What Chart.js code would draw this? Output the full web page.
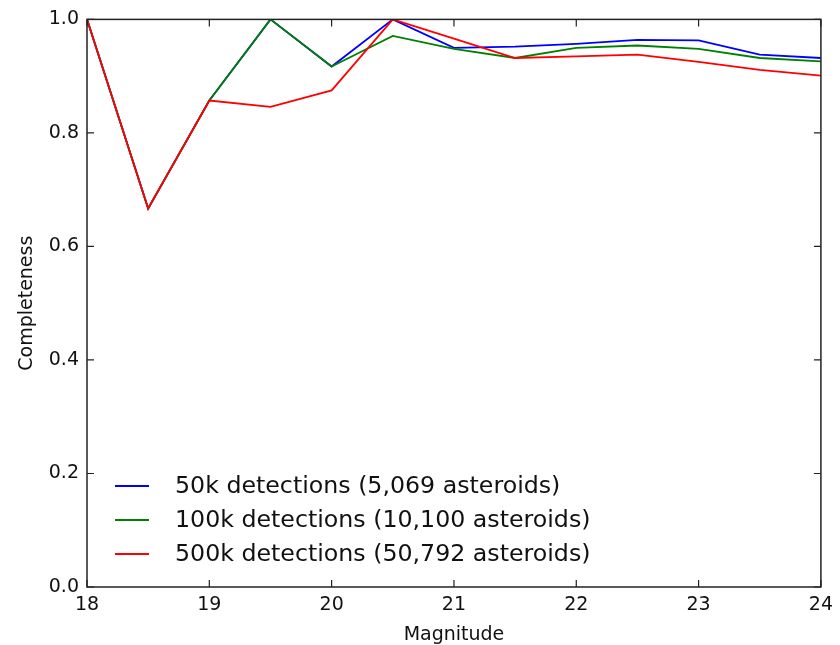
<!DOCTYPE html>
<html>
<head>
<meta charset="utf-8">
<script src="https://cdn.jsdelivr.net/npm/chart.js@4"></script>
<style>
  html, body { margin: 0; padding: 0; background: #fff; }
  #wrap { width: 840px; height: 645px; }
</style>
</head>
<body>
<div id="wrap"><canvas id="completeness-chart" width="840" height="645"></canvas></div>
<script>
// magnitude bins (x) and completeness per run
var magnitudes = [18, 18.5, 19, 19.5, 20, 20.5, 21, 21.5, 22, 22.5, 23, 23.5, 24];
var det50k = [1.0, 0.667, 0.857, 1.0, 0.917, 1.0, 0.950, 0.952, 0.957, 0.964, 0.963, 0.938, 0.932];
var det100k = [1.0, 0.667, 0.857, 1.0, 0.917, 0.971, 0.948, 0.932, 0.950, 0.954, 0.948, 0.932, 0.926];
var det500k = [1.0, 0.667, 0.857, 0.846, 0.875, 1.0, 0.966, 0.932, 0.935, 0.938, 0.925, 0.911, 0.901];

var seriesLabels = [
  "50k detections (5,069 asteroids)",
  "100k detections (10,100 asteroids)",
  "500k detections (50,792 asteroids)",
];
var xTicks = [18, 19, 20, 21, 22, 23, 24];
var yTicks = [0.0, 0.2, 0.4, 0.6, 0.8, 1.0];

var FONT = "'DejaVu Sans', sans-serif";

function toPoints(values) {
  return values.map(function (v, i) {
    return { x: magnitudes[i], y: v };
  });
}

// frame on all four sides with inward ticks, like the classic matplotlib look
var framePlugin = {
  id: "frame",
  afterDatasetsDraw: function (chart) {
    var ctx = chart.ctx;
    var area = chart.chartArea;
    var xs = chart.scales.x;
    var ys = chart.scales.y;
    var len = 7;
    ctx.save();
    ctx.strokeStyle = "#222";
    ctx.lineWidth = 1.5;
    ctx.strokeRect(area.left, area.top, area.right - area.left, area.bottom - area.top);
    ctx.lineWidth = 1.2;
    ctx.beginPath();
    xTicks.forEach(function (t) {
      var px = xs.getPixelForValue(t);
      ctx.moveTo(px, area.bottom);
      ctx.lineTo(px, area.bottom - len);
      ctx.moveTo(px, area.top);
      ctx.lineTo(px, area.top + len);
    });
    yTicks.forEach(function (t) {
      var py = ys.getPixelForValue(t);
      ctx.moveTo(area.left, py);
      ctx.lineTo(area.left + len, py);
      ctx.moveTo(area.right, py);
      ctx.lineTo(area.right - len, py);
    });
    ctx.stroke();
    ctx.restore();
  },
};

// legend sits inside the plot, lower left, no box
var innerLegend = {
  id: "innerLegend",
  afterDraw: function (chart) {
    var ctx = chart.ctx;
    var area = chart.chartArea;
    var rowGap = 34;
    var firstRow = area.bottom - 101;
    ctx.save();
    ctx.font = "23.7px " + FONT;
    ctx.textBaseline = "middle";
    ctx.textAlign = "left";
    chart.data.datasets.forEach(function (ds, i) {
      var y = firstRow + i * rowGap;
      ctx.strokeStyle = ds.borderColor;
      ctx.lineWidth = 1.8;
      ctx.beginPath();
      ctx.moveTo(area.left + 28, y);
      ctx.lineTo(area.left + 62, y);
      ctx.stroke();
      ctx.fillStyle = "#111";
      ctx.fillText(ds.label, area.left + 88, y + 1);
    });
    ctx.restore();
  },
};

var ctx = document.getElementById("completeness-chart").getContext("2d");

var config = {
  type: "line",
  data: {
    datasets: [
      { label: seriesLabels[0], data: toPoints(det50k), borderColor: "#0000ff", order: 2 },
      { label: seriesLabels[1], data: toPoints(det100k), borderColor: "#008000", order: 1 },
      { label: seriesLabels[2], data: toPoints(det500k), borderColor: "#ff0000", order: 0 },
    ],
  },
  options: {
    responsive: false,
    animation: false,
    layout: { padding: { top: 19, right: 18, left: 0, bottom: 0 } },
    elements: {
      line: { borderWidth: 1.8, tension: 0, fill: false },
      point: { radius: 0 },
    },
    plugins: {
      legend: { display: false },
      tooltip: { enabled: false },
    },
    scales: {
      x: {
        type: "linear",
        min: 18,
        max: 24,
        afterFit: function (scale) { scale.height = 58; },
        afterBuildTicks: function (scale) {
          scale.ticks = xTicks.map(function (v) { return { value: v }; });
        },
        grid: { display: false, drawTicks: false },
        border: { display: false },
        ticks: {
          padding: 7,
          color: "#111",
          font: { family: FONT, size: 19 },
          callback: function (v) { return String(v); },
        },
        title: {
          display: true,
          text: "Magnitude",
          color: "#111",
          font: { family: FONT, size: 19, lineHeight: 1 },
          padding: { top: 0, bottom: 0 },
        },
      },
      y: {
        min: 0,
        max: 1,
        afterFit: function (scale) { scale.width = 87; },
        afterBuildTicks: function (scale) {
          scale.ticks = yTicks.map(function (v) { return { value: v }; });
        },
        grid: { display: false, drawTicks: false },
        border: { display: false },
        ticks: {
          padding: 8,
          color: "#111",
          font: { family: FONT, size: 19 },
          callback: function (v) { return Number(v).toFixed(1); },
        },
        title: {
          display: true,
          text: "Completeness",
          color: "#111",
          font: { family: FONT, size: 19, lineHeight: 1 },
          padding: { top: 18, bottom: 0 },
        },
      },
    },
  },
  plugins: [framePlugin, innerLegend],
};

var completenessChart = new Chart(ctx, config);
</script>
</body>
</html>
